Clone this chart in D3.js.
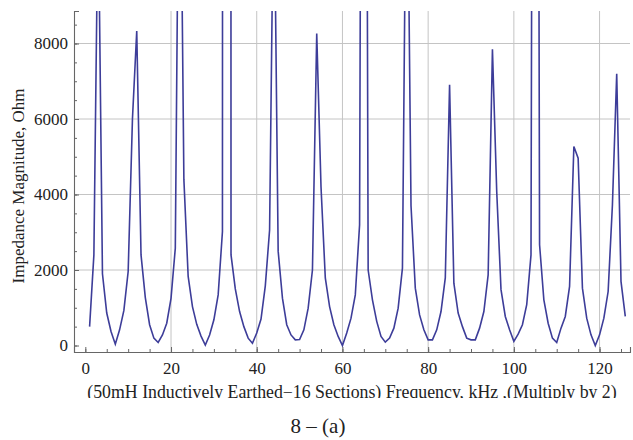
<!DOCTYPE html>
<html>
<head>
<meta charset="utf-8">
<script src="https://cdn.jsdelivr.net/npm/d3@7/dist/d3.min.js"></script>
<style>
  body { margin: 0; background: #fff; }
</style>
</head>
<body>
<svg width="633" height="440"></svg>
<script>

// impedance magnitude (Ohm) sampled at 1, 2, 3 ... 126 kHz
const impedance = [
   500, 2400, 12000, 1900,  860,  370,   35,  415,  930, 1960,
  6000, 8330,  2400, 1270,  550,  195,   80,  280,  590, 1250,
  2580, 16000, 4400, 1830, 1030,  560,  250,   10,  280,  680,
  1340, 3020, 500000, 2400, 1500,  900,  500,  195,   60,  330,
   700, 1580,  3060, 13000, 2500, 1255,  550,  280,  150,  160,
   415,  990,  2000, 8265, 4200, 1790, 1030,  550,  240,    0,
   330,  725,  1340, 3200, 40000, 2000, 1210,  640,  240,   90,
   195,  460,   990, 2050, 15000, 3700, 1520,  810,  415,  150,
   150,  415,   900, 1790, 6910, 1650,  860,  500,  195,  150,
   150,  460,   900, 1870, 7850, 4080, 1480,  770,  415,  110,
   300,  550,  1080, 2400, 50000, 2670, 1210,  590,  195,   80,
   460,  770,  1565, 5270, 4960, 1520,  725,  283,    0,  283,
   725, 1430,  3730, 7200, 1700,  770
];

const xTicks = [0, 20, 40, 60, 80, 100, 120];
const xMinor = d3.range(0, 126, 5);
const yTicks = [0, 2000, 4000, 6000, 8000];
const yMinor = d3.range(0, 8600, 500);
const xGrid = [20, 40, 60, 80, 100, 120];
const yGrid = [2000, 4000, 6000, 8000];

const xLabel = "(50mH Inductively Earthed\u221216 Sections)  Frequency, kHz ,(Multiply by 2)";
const yLabel = "Impedance Magnitude, Ohm";
const caption = "8 \u2013 (a)";

const serif = "'Liberation Serif', 'Times New Roman', serif";

function drawChart() {
    const left = 74, right = 630, top = 11, bottom = 352;
    const svg = d3.select("svg");

    const x = d3.scaleLinear().domain([-2.64, 127.1]).range([left, right]);
    const y = d3.scaleLinear().domain([-172, 8861]).range([bottom, top]);

    // grid lines
    svg.append("g")
       .selectAll("line").data(xGrid).enter().append("line")
       .attr("x1", d => x(d)).attr("x2", d => x(d))
       .attr("y1", top).attr("y2", bottom)
       .attr("stroke", "#c4c4c4").attr("stroke-width", 1);
    svg.append("g")
       .selectAll("line").data(yGrid).enter().append("line")
       .attr("x1", left).attr("x2", right)
       .attr("y1", d => y(d)).attr("y2", d => y(d))
       .attr("stroke", "#c4c4c4").attr("stroke-width", 1);

    // the curve, clipped at the plot range
    svg.append("clipPath").attr("id", "plotclip")
       .append("rect").attr("x", left).attr("y", top)
       .attr("width", right - left + 3).attr("height", bottom - top);

    const line = d3.line()
        .x((d, i) => x(i + 1))
        .y(d => y(d));

    svg.append("path")
       .datum(impedance)
       .attr("clip-path", "url(#plotclip)")
       .attr("d", line)
       .attr("fill", "none")
       .attr("stroke", "#3d3d99")
       .attr("stroke-width", 1.6)
       .attr("stroke-linejoin", "miter");

    // axes: major ticks with labels, minor ticks without
    svg.append("g").attr("transform", `translate(0,${bottom})`)
       .call(d3.axisBottom(x).tickValues(xTicks).tickSize(-5).tickPadding(10)
               .tickFormat(d3.format("d")));
    svg.append("g").attr("transform", `translate(0,${bottom})`)
       .call(d3.axisBottom(x).tickValues(xMinor).tickSize(-3).tickFormat(""))
       .select(".domain").remove();

    svg.append("g").attr("transform", `translate(${left},0)`)
       .call(d3.axisLeft(y).tickValues(yTicks).tickSize(-5).tickPadding(6)
               .tickFormat(d3.format("d")));
    svg.append("g").attr("transform", `translate(${left},0)`)
       .call(d3.axisLeft(y).tickValues(yMinor).tickSize(-3).tickFormat(""))
       .select(".domain").remove();

    svg.selectAll(".domain").attr("stroke", "#666").attr("stroke-width", 1.1);
    svg.selectAll(".tick line").attr("stroke", "#666");
    svg.selectAll(".tick text")
       .style("font-family", serif).style("font-size", "17px").attr("fill", "#222");

    // axis titles
    svg.append("clipPath").attr("id", "labelclip")
       .append("rect").attr("x", 0).attr("y", 375).attr("width", 633).attr("height", 23);
    svg.append("text")
       .attr("clip-path", "url(#labelclip)")
       .attr("x", 352).attr("y", 398)
       .attr("text-anchor", "middle")
       .style("font-family", serif).style("font-size", "17.8px").attr("fill", "#222")
       .text(xLabel);

    svg.append("text")
       .attr("transform", "translate(24,186) rotate(-90)")
       .attr("text-anchor", "middle")
       .style("font-family", serif).style("font-size", "17px").attr("fill", "#222")
       .text(yLabel);

    svg.append("text")
       .attr("x", 318).attr("y", 433)
       .attr("text-anchor", "middle")
       .style("font-family", serif).style("font-size", "21px").attr("fill", "#222")
       .text(caption);
}

drawChart();
</script>
</body>
</html>
